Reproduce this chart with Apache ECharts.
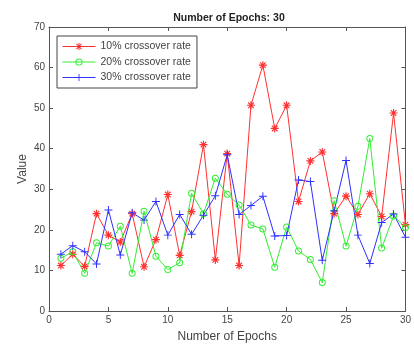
<!DOCTYPE html>
<html>
<head>
<meta charset="utf-8">
<script src="https://cdn.jsdelivr.net/npm/echarts@6/dist/echarts.min.js"></script>
<style>
  html, body { margin: 0; padding: 0; background: #fff; }
  #chart { width: 414px; height: 348px; }
</style>
</head>
<body>
<div id="chart"></div>
<script>
// Epoch index 1..30
const epochs = [1,2,3,4,5,6,7,8,9,10,11,12,13,14,15,16,17,18,19,20,21,22,23,24,25,26,27,28,29,30];

// Objective value per epoch for each crossover rate
const rate10 = [11.2,14.0,11.0,24.0,18.7,17.0,24.0,10.9,17.6,28.7,13.7,24.5,41.0,12.6,38.8,11.2,50.7,60.6,45.0,50.7,27.0,37.0,39.2,24.0,28.3,23.8,28.9,23.3,48.8,21.3];
const rate20 = [13.0,14.6,9.3,16.8,16.0,20.9,9.3,24.6,13.5,10.2,11.9,29.0,24.0,32.7,28.8,26.1,21.2,20.2,10.8,20.7,14.8,12.7,7.0,27.2,16.0,25.8,42.5,15.5,23.4,20.6];
const rate30 = [14.0,16.1,14.6,11.6,24.9,13.8,24.2,22.4,27.0,18.7,23.8,18.9,23.6,28.4,38.5,23.8,26.0,28.3,18.5,18.6,32.3,31.9,12.5,24.7,37.1,18.7,11.7,21.8,23.9,18.2];

const seriesNames = ['10% crossover rate', '20% crossover rate', '30% crossover rate'];
const seriesColors = ['#ff3030', '#30ee30', '#3030ff'];

// Axis ticks
const xTicks = { min: 0, max: 30, interval: 5 };
const yTicks = { min: 0, max: 70, interval: 10 };

const pair = (ys) => epochs.map((x, i) => [x, ys[i]]);

// Marker shapes: asterisk (plus + cross), plus, thin ring
const asteriskPath = 'path://M4.3,0h1.4v10h-1.4z M0,4.3h10v1.4h-10z M1,2L2,1L9,8L8,9z M8,1L9,2L2,9L1,8z';
const plusPath = 'path://M4.4,0h1.2v10h-1.2z M0,4.4h10v1.2h-10z';
const ringPath = 'path://M5,0A5,5 0 1,1 4.99,0z M5,1.4A3.6,3.6 0 1,0 5.01,1.4z';

const fontFam = '"Liberation Sans", Arial, sans-serif';
const axisGrey = '#555';
const labelGrey = '#444';

const frameAxis = (extra) => Object.assign({
  type: 'value',
  axisLine: { show: true, onZero: false, lineStyle: { color: axisGrey, width: 1 } },
  axisTick: { show: true, inside: true, length: 4, lineStyle: { color: axisGrey } },
  splitLine: { show: false },
}, extra);

const chart = echarts.init(document.getElementById('chart'), null, { renderer: 'canvas' });

chart.setOption({
  animation: false,
  backgroundColor: '#fff',
  textStyle: { fontFamily: fontFam },
  title: {
    text: 'Number of Epochs: 30',
    left: 224,
    top: 8,
    textAlign: 'center',
    textStyle: { fontSize: 10.5, fontWeight: 'bold', color: '#222', fontFamily: fontFam }
  },
  grid: { left: 49, right: 4, top: 27, bottom: 37 },
  legend: {
    orient: 'vertical',
    left: 57,
    top: 36,
    padding: [5, 6, 5, 5],
    itemWidth: 33,
    itemHeight: 9,
    itemGap: 4.5,
    borderColor: '#444',
    borderWidth: 1,
    backgroundColor: '#fff',
    lineStyle: { width: 1 },
    itemStyle: { borderWidth: 0 },
    textStyle: { fontSize: 10.5, color: labelGrey, fontFamily: fontFam },
    data: seriesNames
  },
  xAxis: [
    frameAxis({
      min: xTicks.min, max: xTicks.max, interval: xTicks.interval,
      position: 'bottom',
      name: 'Number of Epochs',
      nameLocation: 'middle',
      nameGap: 20,
      nameMoveOverlap: false,
      nameTextStyle: { fontSize: 12, color: labelGrey },
      axisLabel: { fontSize: 10, color: labelGrey, margin: 4 }
    }),
    frameAxis({
      min: xTicks.min, max: xTicks.max, interval: xTicks.interval,
      position: 'top',
      axisLabel: { show: false }
    })
  ],
  yAxis: [
    frameAxis({
      min: yTicks.min, max: yTicks.max, interval: yTicks.interval,
      position: 'left',
      name: 'Value',
      nameLocation: 'middle',
      nameGap: 20,
      nameMoveOverlap: false,
      nameTextStyle: { fontSize: 12, color: labelGrey },
      axisLabel: { fontSize: 10, color: labelGrey, margin: 4 }
    }),
    frameAxis({
      min: yTicks.min, max: yTicks.max, interval: yTicks.interval,
      position: 'right',
      axisLabel: { show: false }
    })
  ],
  series: [
    {
      name: seriesNames[0], type: 'line', data: pair(rate10),
      symbol: asteriskPath, symbolSize: 8, showAllSymbol: true,
      lineStyle: { color: seriesColors[0], width: 1 },
      itemStyle: { color: seriesColors[0], borderWidth: 0 }
    },
    {
      name: seriesNames[1], type: 'line', data: pair(rate20),
      symbol: ringPath, symbolSize: 7, showAllSymbol: true,
      lineStyle: { color: seriesColors[1], width: 1 },
      itemStyle: { color: seriesColors[1], borderWidth: 0 }
    },
    {
      name: seriesNames[2], type: 'line', data: pair(rate30),
      symbol: plusPath, symbolSize: 8, showAllSymbol: true,
      lineStyle: { color: seriesColors[2], width: 1 },
      itemStyle: { color: seriesColors[2], borderWidth: 0 }
    }
  ]
});
</script>
</body>
</html>
